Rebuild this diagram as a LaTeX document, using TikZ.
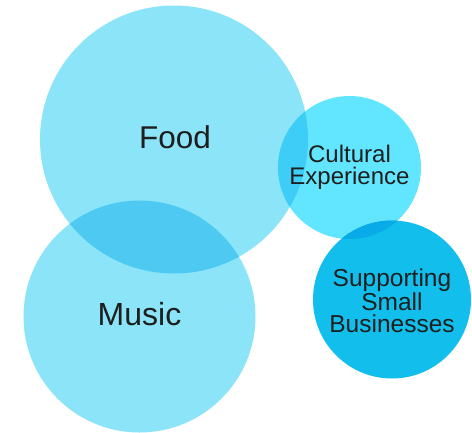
\documentclass[tikz,border=0pt]{standalone}
\usepackage{fontspec}
\setmainfont{Liberation Sans}
\definecolor{paleblue}{HTML}{8BE4F8}
\definecolor{paleboth}{HTML}{4DC9F2}
\definecolor{brightblue}{HTML}{62E6FF}
\definecolor{brightboth}{HTML}{3ECDF6}
\definecolor{deepblue}{HTML}{12BFEC}
\definecolor{deepboth}{HTML}{08AAE8}
\definecolor{inktext}{HTML}{1E1E1E}
\begin{document}
\begin{tikzpicture}[x=1pt,y=-1pt,
    bubble/.style={circle,inner sep=0pt,minimum size=#1},
    bubbletext/.style={text=inktext,align=center,inner sep=0pt}]
  \useasboundingbox (0,0) rectangle (472,432);

  \node[bubble=268pt,fill=paleblue] (food) at (174,139.5) {};
  \node[bubble=232pt,fill=paleblue] (music) at (139.5,316.5) {};
  \node[bubble=143pt,fill=brightblue] (culture) at (349.5,167.5) {};
  \node[bubble=158pt,fill=deepblue] (business) at (392,299.5) {};

  % overlaps
  \begin{scope}
    \clip (food.center) circle (134pt);
    \fill[paleboth] (music.center) circle (116pt);
    \fill[brightboth] (culture.center) circle (71.5pt);
  \end{scope}
  \begin{scope}
    \clip (culture.center) circle (71.5pt);
    \fill[deepboth] (business.center) circle (79pt);
  \end{scope}

  \node[bubbletext,font=\fontsize{31.5}{31}\selectfont] (foodtext) at (175,137) {Food};
  \node[bubbletext,font=\fontsize{32}{31}\selectfont] (musictext) at (139.5,314.5) {Music};
  \node[bubbletext,font=\fontsize{24}{22}\selectfont] (culturetext) at (349.5,167) {Cultural\\Experience};
  \node[bubbletext,font=\fontsize{24.5}{22}\selectfont] (businesstext) at (392,300.5) {Supporting\\Small\\Businesses};
\end{tikzpicture}
\end{document}
